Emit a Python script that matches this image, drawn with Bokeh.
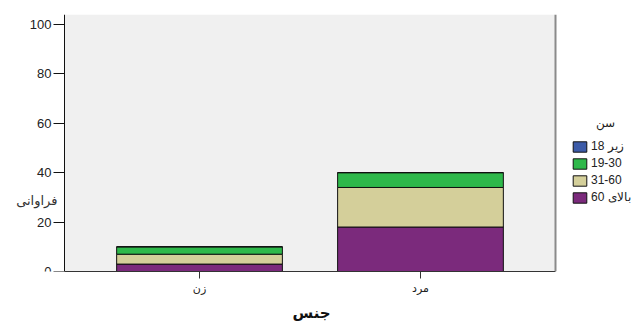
from bokeh.plotting import figure
from bokeh.models import (Range1d, Legend, LegendItem, Label, LinearAxis,
                          FixedTicker, BoxAnnotation, Span, Title)
from bokeh.embed import file_html
from bokeh.resources import INLINE

# data
genders = ["زن", "مرد"]
age_groups = ["بالای 60", "31-60", "19-30", "زیر 18"]
over60 = [3, 18]
age31_60 = [4, 16]
age19_30 = [3, 6]
under18 = [0, 0]
y_ticks = [0, 20, 40, 60, 80, 100]
colors = ["#7b2a7c", "#d4cf9a", "#2eb84a", "#3c5ba8"]

pos = [i + 0.5 for i in range(len(genders))]
data = {"x": pos, "بالای 60": over60, "31-60": age31_60,
        "19-30": age19_30, "زیر 18": under18}

# layout geometry (pixels)
W, H = 641, 325
left_px, right_px = 64, 555
pad = 0.111
x_lo, x_hi = -pad, len(genders) + pad
ppu = (right_px - left_px) / (x_hi - x_lo)
x_start = x_lo - left_px / ppu
x_end = x_hi + (W - right_px) / ppu

p = figure(width=W, height=H, output_backend="svg", toolbar_location=None,
           x_range=Range1d(x_start, x_end), y_range=Range1d(0, 104),
           y_axis_location=None,
           min_border_left=0, min_border_right=0, min_border_top=14,
           min_border_bottom=53)
p.background_fill_color = "white"
p.border_fill_color = "white"
p.outline_line_color = None
p.grid.visible = False

# plot area background
p.add_layout(BoxAnnotation(left=x_lo, right=x_hi, fill_color="#f0f0f0",
                           fill_alpha=1, line_color=None, level="underlay"))

rs = p.vbar_stack(age_groups, x="x", width=0.75, source=data,
                  color=colors, line_color="#111111", line_width=1)

font = "Liberation Sans"
ya = LinearAxis(fixed_location=x_lo, ticker=FixedTicker(ticks=y_ticks))
ya.major_label_text_font = font
ya.major_label_text_font_size = "13px"
ya.major_label_text_color = "#222222"
ya.major_tick_out = 11
ya.major_tick_in = 0
ya.minor_tick_line_color = None
ya.axis_line_color = "#111111"
ya.major_tick_line_color = "#111111"
ya.major_label_standoff = 2
p.add_layout(ya, "left")

xa = p.xaxis[0]
xa.ticker = FixedTicker(ticks=pos)
xa.major_label_overrides = {v: g for v, g in zip(pos, genders)}
xa.bounds = (x_lo, x_hi)
xa.minor_tick_line_color = None
xa.major_label_text_font = "DejaVu Sans"
xa.major_label_text_font_size = "11px"
xa.major_label_text_color = "#222222"
xa.major_tick_out = 7
xa.major_tick_in = 0
xa.axis_line_color = "#333333"
xa.major_tick_line_color = "#333333"
xa.major_label_standoff = 3

# x axis title, under the plot area
p.add_layout(Title(text="جنس", align="left", offset=292,
                   text_font="DejaVu Sans", text_font_size="15px",
                   text_font_style="bold", text_color="#111111",
                   standoff=8), "below")

# right frame edge
p.add_layout(Span(location=x_hi, dimension="height", line_color="#8a8a8a",
                  line_width=2))

# y axis title (horizontal)
p.add_layout(Label(x=57, y=71, x_units="screen", y_units="screen",
                   text="فراوانی", text_align="right", text_baseline="middle",
                   text_font="DejaVu Sans", text_font_size="13px",
                   text_color="#333333"))

# legend
items = [LegendItem(label=age_groups[i], renderers=[rs[i]]) for i in [3, 2, 1, 0]]
legend = Legend(items=items, location=(571, 67), glyph_width=17, glyph_height=13,
                label_height=13, spacing=3, label_standoff=3, padding=0,
                margin=0, border_line_color=None, background_fill_alpha=0,
                label_text_font=font, label_text_font_size="12px",
                label_text_color="#222222")
p.add_layout(legend)
p.add_layout(Label(x=605, y=149, x_units="screen", y_units="screen",
                   text="سن", text_align="center", text_baseline="middle",
                   text_font="DejaVu Sans", text_font_size="12px",
                   text_color="#222222"))

open("out.html", "w").write(file_html(p, INLINE))
